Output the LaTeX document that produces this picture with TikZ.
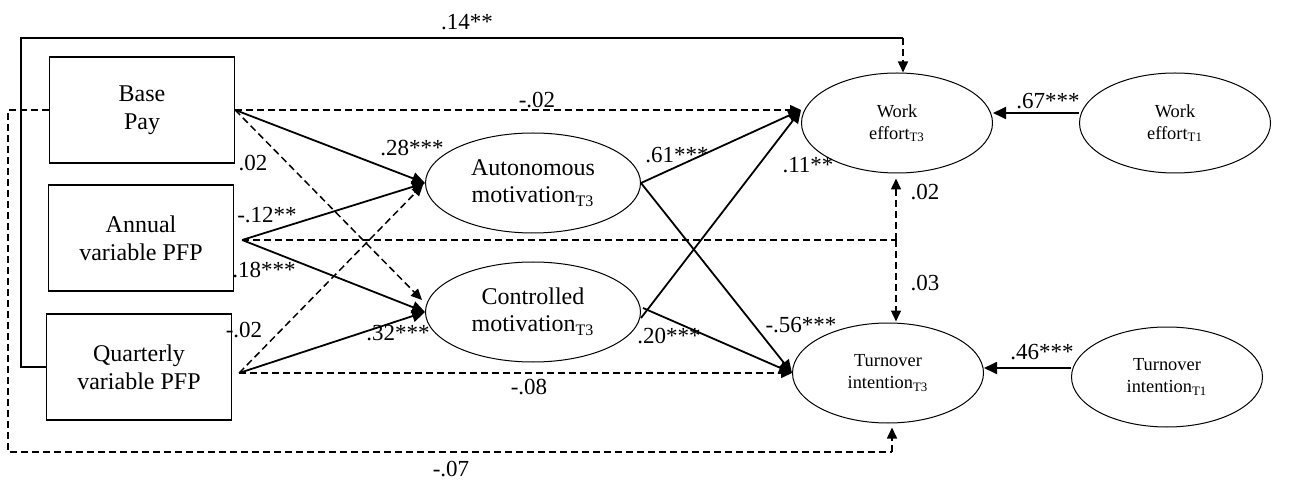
\documentclass[tikz,border=0pt]{standalone}
\usepackage{fontspec}
\setmainfont{Liberation Serif}
\usetikzlibrary{calc,shapes.geometric,arrows.meta}

\begin{document}
\begin{tikzpicture}[x=0.5pt,y=-0.5pt,
  pay/.style={draw,line width=0.65pt,minimum width=92.5pt,minimum height=53pt,
    align=center,font=\fontsize{12}{14}\selectfont},
  motiv/.style={draw,ellipse,line width=0.5pt,minimum width=107.5pt,minimum height=50pt,
    inner sep=0pt,align=center,font=\fontsize{12}{13.5}\selectfont},
  outc/.style={draw,ellipse,line width=0.5pt,minimum width=95.5pt,minimum height=50pt,
    inner sep=0pt,align=center,font=\fontsize{9.2}{11}\selectfont},
  sig/.style={line width=0.9pt,-{Triangle[length=6.5pt,width=6pt]}},
  ns/.style={line width=0.75pt,dash pattern=on 3.5pt off 2pt},
  nsa/.style={ns,-{Triangle[length=5.5pt,width=5pt]}},
  coef/.style={font=\fontsize{11.5}{12}\selectfont,inner sep=0pt}]
  \useasboundingbox (0,0) rectangle (1309,480);
  % observed pay
  \node[pay] (base) at (142,110) {Base\\Pay};
  \node[pay] (annual) at (141,238) {Annual\\variable PFP};
  \node[pay] (quarterly) at (139,367) {Quarterly\\variable PFP};
  % mediators
  \node[motiv] (auto) at (533,183) {Autonomous\\motivation\textsubscript{T3}};
  \node[motiv] (ctrl) at (533,312) {Controlled\\motivation\textsubscript{T3}};
  % outcomes
  \node[outc] (effort3) at (897,123) {Work\\effort\textsubscript{T3}};
  \node[outc] (effort1) at (1175,123) {Work\\effort\textsubscript{T1}};
  \node[outc] (turn3) at (888,373) {Turnover\\intention\textsubscript{T3}};
  \node[outc] (turn1) at (1167,377) {Turnover\\intention\textsubscript{T1}};

  \coordinate (ann) at ($(annual.east)+(8,2)$);
  \coordinate (qua) at ($(quarterly.east)+(7,6)$);
  \coordinate (effortin) at (base.east -| effort3.west);
  \coordinate (turnin) at (qua -| turn3.west);
  \coordinate (split) at (896,240);
  \coordinate (topL) at (21,38);
  \coordinate (topR) at (903,38);
  \coordinate (botL) at (8,452);
  \coordinate (botR) at (892,452);
  \coordinate (e1out) at ($(effort1.west)+(0,-10)$);
  \coordinate (t1out) at ($(turn1.west)+(0,-9)$);

  % pay -> motivation
  \draw[sig] (base.east) -- (auto.west);
  \draw[sig] (ann) -- (auto.west);
  \draw[sig] (ann) -- (ctrl.west);
  \draw[sig] (qua) -- (ctrl.west);
  \draw[nsa] (base.east) -- ($(ctrl.west)+(-3,-12)$);
  \draw[nsa] (qua) -- ($(auto.west)+(-2,2)$);
  % direct effects
  \draw[nsa] (base.east) -- (effortin);
  \draw[nsa] (qua) -- (turnin);
  \draw[ns] (ann) -- (split);
  \draw[nsa] (split) -- ($(split |- effort3.south)+(0,5)$);
  \draw[nsa] (split) -- ($(split |- turn3.north)+(0,-1)$);
  \draw[line width=0.8pt] (quarterly.west) -| (topL) -- (topR);
  \draw[nsa] (topR) -- (topR |- effort3.north);
  \draw[ns] (base.west) -| (botL) -- (botR);
  \draw[nsa] (botR) -- ($(botR |- turn3.south)+(0,4)$);
  % motivation -> outcomes
  \draw[sig] (auto.east) -- (effortin);
  \draw[sig] (auto.east) -- (turnin);
  \draw[sig] ($(ctrl.east)+(0,6)$) -- (effortin);
  \draw[sig] ($(ctrl.east)+(2,-4)$) -- (turnin);
  % stability paths
  \draw[sig] (e1out) -- (e1out -| effort3.east);
  \draw[sig] (t1out) -- (t1out -| turn3.east);

  % coefficients
  \node[coef] (c14) at (467,22) {.14**};
  \node[coef] (c02a) at (537,100) {-.02};
  \node[coef] (c02b) at (253,163) {.02};
  \node[coef] (c28) at (412,148) {.28***};
  \node[coef] (c12) at (267,215) {-.12**};
  \node[coef] (c18) at (264,270) {.18***};
  \node[coef] (c02c) at (244,330) {-.02};
  \node[coef] (c32) at (398,333) {.32***};
  \node[coef] (c08) at (529,387) {-.08};
  \node[coef] (c61) at (677,155) {.61***};
  \node[coef] (c11) at (808,165) {.11**};
  \node[coef] (c20) at (669,336) {.20***};
  \node[coef] (c56) at (801,325) {-.56***};
  \node[coef] (c02d) at (925,192) {.02};
  \node[coef] (c03) at (925,283) {.03};
  \node[coef] (c67) at (1048,101) {.67***};
  \node[coef] (c46) at (1042,352) {.46***};
  \node[coef] (c07) at (451,469) {-.07};
\end{tikzpicture}
\end{document}
